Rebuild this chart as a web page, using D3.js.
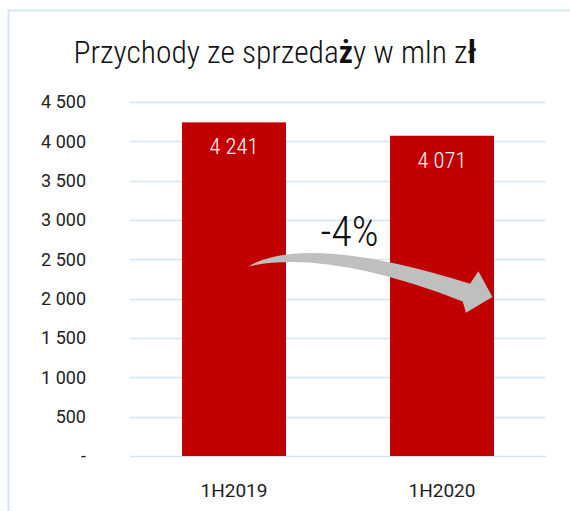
<!DOCTYPE html>
<html>
<head>
<meta charset="utf-8">
<script src="https://cdn.jsdelivr.net/npm/d3@7"></script>
<style>
  body { margin: 0; background: #fff; }
  svg { display: block; }
</style>
</head>
<body>
<div id="chart"></div>
<script>
// chart data
const categories = ["1H2019", "1H2020"];
const revenue = [4241, 4071];
const yTicks = [0, 500, 1000, 1500, 2000, 2500, 3000, 3500, 4000, 4500];
const changeLabel = "-4%";
// title pieces, the Polish glyphs render heavier in the original
const titleParts = [
  ["Przychody ze sprzeda", 300], ["ż", 700], ["y w mln z", 300], ["ł", 700]
];

const w = 570, h = 511;
const margin = { top: 102, right: 24, bottom: 55, left: 130 };
const condensed = "'Liberation Sans Narrow', 'Roboto Condensed', Roboto, sans-serif";

const svg = d3.select("#chart").append("svg")
  .attr("width", w)
  .attr("height", h);

// outer frame (only left & top visible in the crop)
svg.append("path")
  .attr("d", `M8.5,${h} L8.5,10.5 L${w},10.5`)
  .attr("fill", "none")
  .attr("stroke", "#d6e3f3")
  .attr("stroke-width", 2);

const x = d3.scaleBand()
  .domain(categories)
  .range([margin.left, w - margin.right])
  .paddingInner(0.5)
  .paddingOuter(0.25);

const y = d3.scaleLinear()
  .domain([0, 4500])
  .range([h - margin.bottom, margin.top]);

const fmt = v => v === 0 ? "-" : d3.format(",")(v).replace(/,/g, " ");

// gridlines
svg.append("g")
  .selectAll("line")
  .data(yTicks)
  .join("line")
  .attr("x1", margin.left)
  .attr("x2", w - margin.right)
  .attr("y1", d => Math.round(y(d)) + 0.5)
  .attr("y2", d => Math.round(y(d)) + 0.5)
  .attr("stroke", "#d6e3f3")
  .attr("stroke-width", 1.5);

// y axis labels
const yAxis = d3.axisLeft(y).tickValues(yTicks).tickFormat(fmt).tickSize(0).tickPadding(0);
svg.append("g")
  .attr("transform", `translate(86,0)`)
  .call(yAxis)
  .call(g => g.select(".domain").remove())
  .selectAll("text")
  .attr("font-family", "Roboto, sans-serif")
  .attr("font-size", 18)
  .attr("fill", "#222");

// bars
svg.append("g")
  .selectAll("rect")
  .data(revenue)
  .join("rect")
  .attr("x", (d, i) => x(categories[i]))
  .attr("width", x.bandwidth())
  .attr("y", d => y(d))
  .attr("height", d => y(0) - y(d))
  .attr("fill", "#c00000");

// value labels
svg.append("g")
  .selectAll("text")
  .data(revenue)
  .join("text")
  .attr("x", (d, i) => x(categories[i]) + x.bandwidth() / 2)
  .attr("y", d => y(d) + 32)
  .attr("text-anchor", "middle")
  .attr("font-family", condensed)
  .attr("font-weight", 300)
  .attr("font-size", 22.5)
  .attr("fill", "#fff")
  .text(d => fmt(d));

// x axis labels
const xAxis = d3.axisBottom(x).tickSize(0).tickPadding(0);
svg.append("g")
  .attr("transform", `translate(0,${y(0) + 41})`)
  .call(xAxis)
  .call(g => g.select(".domain").remove())
  .selectAll("text")
  .attr("dy", 0)
  .attr("font-family", "Roboto, sans-serif")
  .attr("font-size", 19)
  .attr("fill", "#222");

// change arrow, anchored on the bars through the scales
const bw = x.bandwidth();
const x0 = x(categories[0]), x1 = x(categories[1]);
const px = (c, f) => c + bw * f;
const tail = [px(x0, 0.635), y(2410)];
const headTop = [px(x1, 0.85), y(2350)];
const headTip = [px(x1, 0.985), y(2020)];
const headBot = [px(x1, 0.73), y(1820)];
const shaftTop = [px(x1, 0.77), y(2190)];
const shaftBot = [px(x1, 0.70), y(1965)];
const ctrlTop = [px(x0, 1.2), y(2840)];
const ctrlBot = [px(x0, 1.4), y(2630)];

const p = d3.path();
p.moveTo(...tail);
p.quadraticCurveTo(...ctrlTop, ...shaftTop);
p.lineTo(...headTop);
p.lineTo(...headTip);
p.lineTo(...headBot);
p.lineTo(...shaftBot);
p.quadraticCurveTo(...ctrlBot, ...tail);
p.closePath();

svg.append("path")
  .attr("d", p.toString())
  .attr("fill", "#bfbfbf");

svg.append("text")
  .attr("x", px(x1, -0.39))
  .attr("y", y(2670))
  .attr("text-anchor", "middle")
  .attr("font-family", condensed)
  .attr("font-weight", 300)
  .attr("font-size", 42)
  .attr("fill", "#111")
  .text(changeLabel);

// title
svg.append("text")
  .attr("x", 275)
  .attr("y", 63)
  .attr("text-anchor", "middle")
  .attr("font-family", condensed)
  .attr("font-size", 31.5)
  .attr("fill", "#111")
  .selectAll("tspan")
  .data(titleParts)
  .join("tspan")
  .attr("font-weight", d => d[1])
  .text(d => d[0]);
</script>
</body>
</html>
